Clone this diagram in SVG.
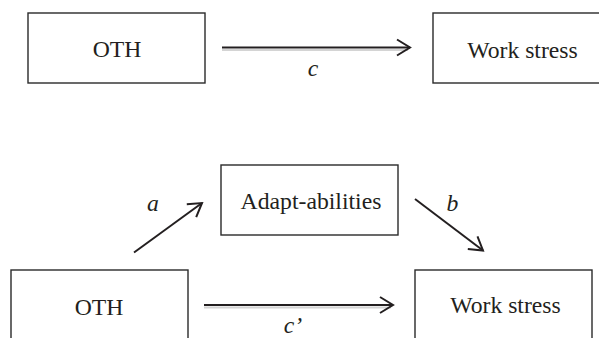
<svg xmlns="http://www.w3.org/2000/svg" width="599" height="338" viewBox="0 0 599 338">
<style>
.box{fill:#fff;stroke:#2a2a2a;stroke-width:1.4}
.lbl{font-family:"Liberation Serif","Times New Roman",serif;font-size:23.7px;fill:#231f20;text-anchor:middle}
.it{font-family:"Liberation Serif","Times New Roman",serif;font-size:23.7px;fill:#231f20;font-style:italic;text-anchor:middle}
.edge{stroke:#231f20;stroke-width:2;fill:none}
.shadow{stroke:#d4d4d4;stroke-width:2;fill:none}
</style>
<defs>
<marker id="arr" markerUnits="userSpaceOnUse" markerWidth="20" markerHeight="20" refX="0" refY="0" viewBox="-16 -10 20 20" orient="auto">
<path d="M-13,-8 L0,0 L-13,8" fill="none" stroke="#231f20" stroke-width="2"/>
</marker>
</defs>
<rect width="599" height="338" fill="#fff"/>
<g id="oth1"><rect class="box" x="28" y="13" width="177" height="70"/><text class="lbl" x="117" y="57">OTH</text></g>
<g id="ws1"><rect class="box" x="433" y="13" width="180" height="70"/><text class="lbl" x="522.5" y="58">Work stress</text></g>
<g id="adapt"><rect class="box" x="221" y="165" width="177" height="70"/><text class="lbl" x="311" y="209">Adapt-abilities</text></g>
<g id="oth2"><rect class="box" x="11" y="270" width="177" height="80"/><text class="lbl" x="99" y="315">OTH</text></g>
<g id="ws2"><rect class="box" x="415" y="270" width="177" height="80"/><text class="lbl" x="505.5" y="313">Work stress</text></g>
<g id="connectors">
<line class="shadow" x1="222" y1="50" x2="408" y2="50"/>
<line class="edge" x1="222" y1="47.5" x2="410" y2="47.5" marker-end="url(#arr)"/>
<text class="it" x="313" y="76">c</text>
<line class="shadow" x1="204" y1="307.5" x2="391" y2="307.5"/>
<line class="edge" x1="204" y1="305" x2="393" y2="305" marker-end="url(#arr)"/>
<text class="it" x="293" y="333">c’</text>
<line class="edge" x1="134" y1="252.5" x2="202" y2="203" marker-end="url(#arr)"/>
<text class="it" x="153" y="211">a</text>
<line class="edge" x1="415" y1="199" x2="483" y2="250.5" marker-end="url(#arr)"/>
<text class="it" x="452.5" y="211">b</text>
</g>
</svg>
